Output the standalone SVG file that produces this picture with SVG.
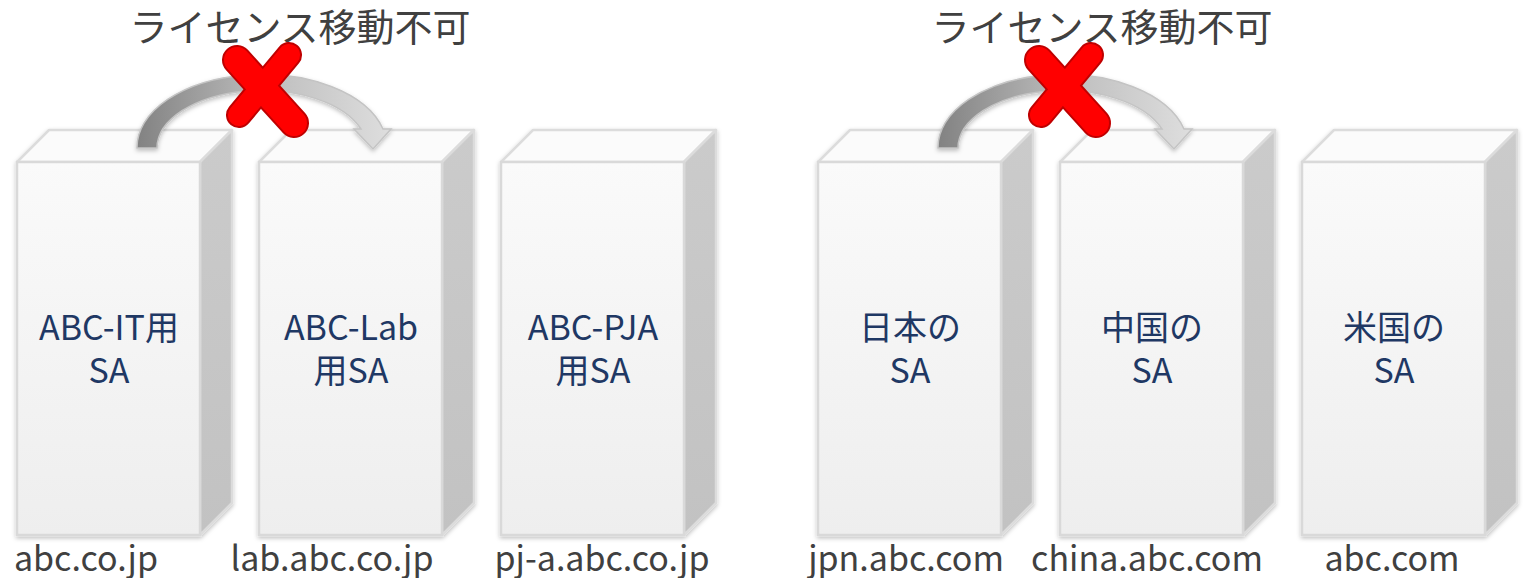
<svg xmlns="http://www.w3.org/2000/svg" width="1529" height="578" viewBox="0 0 1529 578">
<defs>
<linearGradient id="gFront" x1="0" y1="0" x2="0" y2="1">
<stop offset="0" stop-color="#fafafa"/>
<stop offset="1" stop-color="#eeeeee"/>
</linearGradient>
<linearGradient id="gSide" x1="0" y1="0" x2="0" y2="1">
<stop offset="0" stop-color="#cbcbcb"/>
<stop offset="1" stop-color="#c2c2c2"/>
</linearGradient>
<linearGradient id="gArrow" x1="0" y1="0" x2="1" y2="0">
<stop offset="0" stop-color="#828282"/>
<stop offset="0.5" stop-color="#bdbdbd"/>
<stop offset="1" stop-color="#dedede"/>
</linearGradient>
<filter id="shadow" x="-10%" y="-10%" width="125%" height="125%">
<feDropShadow dx="0" dy="2" stdDeviation="2" flood-color="#000" flood-opacity="0.25"/>
</filter>
<g id="box">
<path d="M0,32 L32,0 L215,0 L183,32 Z" fill="#fbfbfb" stroke="#dcdcdc" stroke-width="2.5" stroke-linejoin="round"/>
<path d="M183,32 L215,0 L215,373 L183,405 Z" fill="url(#gSide)" stroke="#dcdcdc" stroke-width="2.5" stroke-linejoin="round"/>
<rect x="0" y="32" width="183" height="373" fill="url(#gFront)" stroke="#d9d9d9" stroke-width="2.5"/>
</g>
<path id="arrow" d="M137,148 A125,73 0 0 1 383,129 L391,129 L373,149 L354,129 L361,129 A105,58 0 0 0 157,148 Z"/>
</defs>
<style>
.title{font-family:"Noto Sans CJK JP","Noto Sans",sans-serif;font-size:38px;fill:#404040;text-anchor:middle}
.lbl{font-family:"Noto Sans CJK JP","Noto Sans",sans-serif;font-size:34px;fill:#1f3864;text-anchor:middle}
.dom{font-family:"Noto Sans CJK JP","Noto Sans",sans-serif;font-size:34px;fill:#404040;text-anchor:middle}
.arr{fill:url(#gArrow);stroke:#c4c4c4;stroke-width:1.5;filter:url(#shadow)}
.xo{stroke:#c00000;stroke-linecap:round;fill:none}
.xi{stroke:#ff0000;stroke-linecap:round;fill:none}
</style>
<rect width="1529" height="578" fill="#ffffff"/>

<g id="title-left"><text class="title" x="300" y="41">ライセンス移動不可</text></g>
<g id="title-right"><text class="title" x="1102" y="41">ライセンス移動不可</text></g>

<g id="node-abc-it">
<use href="#box" x="17" y="130" filter="url(#shadow)"/>
<text class="lbl" x="109" y="340">ABC-IT用<tspan x="109" dy="43">SA</tspan></text>
</g>
<g id="node-abc-lab">
<use href="#box" x="259" y="130" filter="url(#shadow)"/>
<text class="lbl" x="351" y="340">ABC-Lab<tspan x="351" dy="43">用SA</tspan></text>
</g>
<g id="node-abc-pja">
<use href="#box" x="501" y="130" filter="url(#shadow)"/>
<text class="lbl" x="593" y="340">ABC-PJA<tspan x="593" dy="43">用SA</tspan></text>
</g>
<g id="node-jpn">
<use href="#box" x="818" y="130" filter="url(#shadow)"/>
<text class="lbl" x="910" y="340">日本の<tspan x="910" dy="43">SA</tspan></text>
</g>
<g id="node-china">
<use href="#box" x="1060" y="130" filter="url(#shadow)"/>
<text class="lbl" x="1152" y="340">中国の<tspan x="1152" dy="43">SA</tspan></text>
</g>
<g id="node-us">
<use href="#box" x="1302" y="130" filter="url(#shadow)"/>
<text class="lbl" x="1394" y="340">米国の<tspan x="1394" dy="43">SA</tspan></text>
</g>

<g id="domains">
<text class="dom" x="86" y="571">abc.co.jp</text>
<text class="dom" x="332" y="571">lab.abc.co.jp</text>
<text class="dom" x="602" y="571">pj-a.abc.co.jp</text>
<text class="dom" x="906" y="571">jpn.abc.com</text>
<text class="dom" x="1147" y="571">china.abc.com</text>
<text class="dom" x="1392" y="571">abc.com</text>
</g>

<g id="connectors">
<use href="#arrow" class="arr"/>
<use href="#arrow" class="arr" x="801"/>
</g>

<g id="cross-left">
<line class="xo" x1="237" y1="60" x2="294" y2="123" stroke-width="30"/>
<line class="xo" x1="289" y1="55" x2="239" y2="115" stroke-width="26"/>
<line class="xi" x1="237" y1="60" x2="294" y2="123" stroke-width="26"/>
<line class="xi" x1="289" y1="55" x2="239" y2="115" stroke-width="22"/>
</g>
<g id="cross-right">
<line class="xo" x1="1039" y1="60" x2="1096" y2="123" stroke-width="30"/>
<line class="xo" x1="1091" y1="55" x2="1041" y2="115" stroke-width="26"/>
<line class="xi" x1="1039" y1="60" x2="1096" y2="123" stroke-width="26"/>
<line class="xi" x1="1091" y1="55" x2="1041" y2="115" stroke-width="22"/>
</g>
</svg>
